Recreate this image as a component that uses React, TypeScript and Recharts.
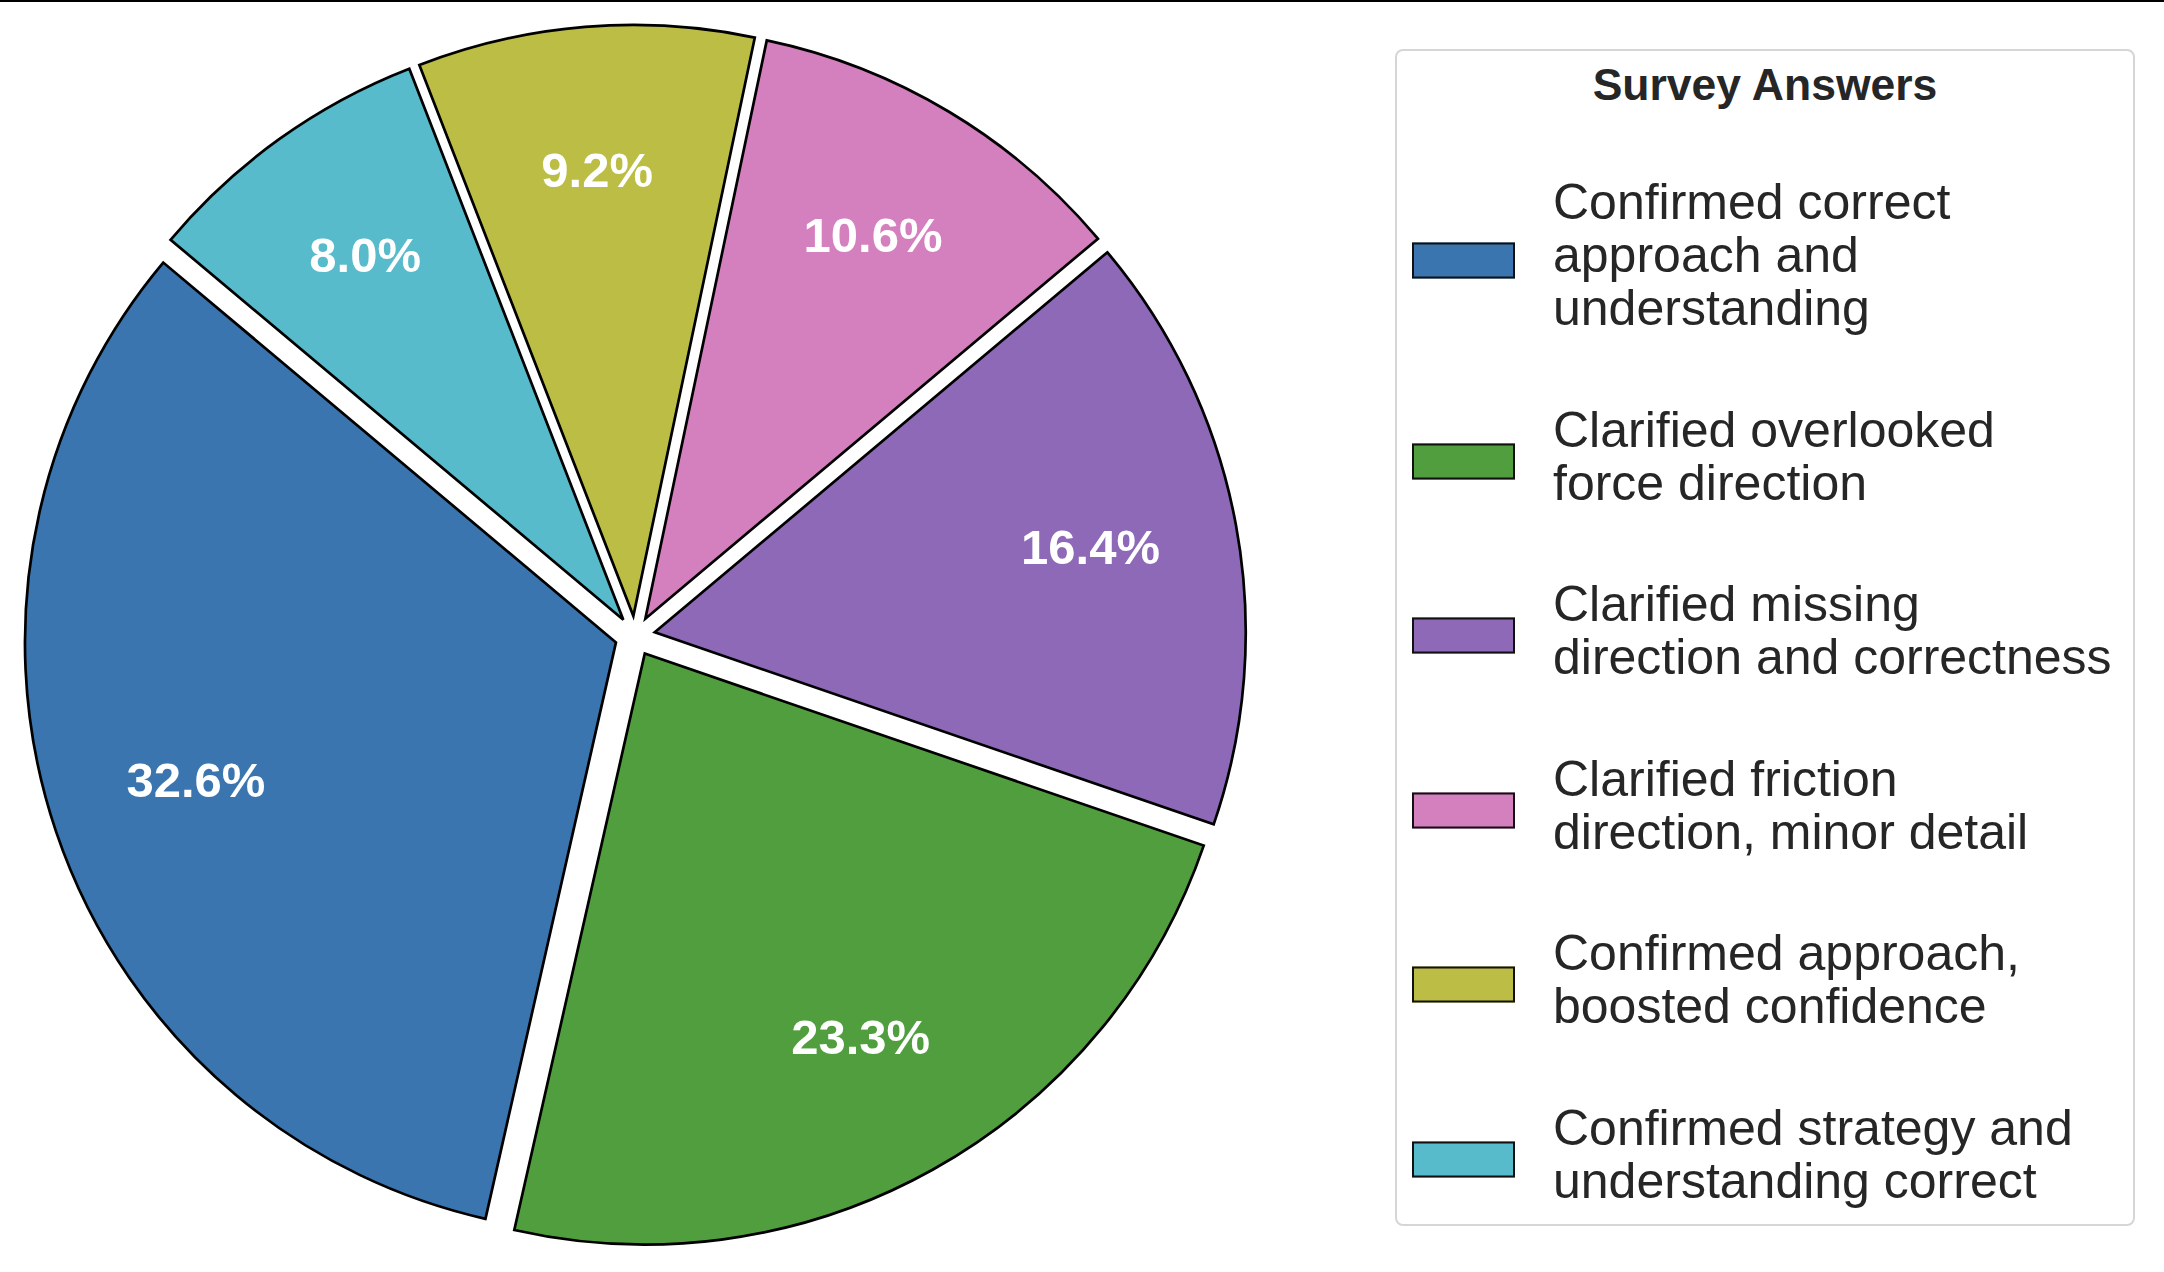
import React from 'react';
import { PieChart, Pie, Cell, Sector, Legend } from 'recharts';

const CATEGORIES = [
  'Confirmed correct\napproach and\nunderstanding',
  'Clarified overlooked\nforce direction',
  'Clarified missing\ndirection and correctness',
  'Clarified friction\ndirection, minor detail',
  'Confirmed approach,\nboosted confidence',
  'Confirmed strategy and\nunderstanding correct',
];
const PERCENTS = [32.6, 23.3, 16.4, 10.6, 9.2, 8.0];
const COLORS = ['#3A75AF', '#519E3E', '#8D69B8', '#D47FBE', '#BCBD45', '#57BBCC'];
const LEGEND_TITLE = 'Survey Answers';

const data = CATEGORIES.map((name, i) => ({ name, value: PERCENTS[i] }));

const EXPLODE = 0.034;
const PCT_DIST = 0.75;
const RAD = Math.PI / 180;
const FONT = '"Liberation Sans", Arial, Helvetica, sans-serif';
const TEXT_COLOR = '#262626';

const renderSector = (props: any) => {
  const { cx, cy, midAngle, outerRadius } = props;
  const off = EXPLODE * outerRadius;
  const dx = off * Math.cos(-midAngle * RAD);
  const dy = off * Math.sin(-midAngle * RAD);
  return <Sector {...props} cx={cx + dx} cy={cy + dy} />;
};

const renderLabel = (props: any) => {
  const { cx, cy, midAngle, outerRadius, index } = props;
  const r = outerRadius * (EXPLODE + PCT_DIST);
  const x = cx + r * Math.cos(-midAngle * RAD);
  const y = cy + r * Math.sin(-midAngle * RAD) - 4;
  return (
    <text
      x={x}
      y={y}
      fill="#ffffff"
      textAnchor="middle"
      dominantBaseline="central"
      style={{ fontFamily: FONT, fontWeight: 700, fontSize: 49 }}
    >
      {PERCENTS[index].toFixed(1) + '%'}
    </text>
  );
};

const LegendContent = (props: any) => {
  const payload: any[] = props.payload || [];
  const items = CATEGORIES.map((c, i) => {
    const p = payload.find((e) => e && e.value === c);
    return { label: p ? p.value : c, color: COLORS[i] };
  });
  return (
    <div
      style={{
        boxSizing: 'border-box',
        width: 740,
        height: 1177,
        border: '2px solid #d6d6d6',
        borderRadius: 8,
        background: '#ffffff',
        fontFamily: FONT,
        color: TEXT_COLOR,
        position: 'relative',
      }}
    >
      <div
        style={{
          position: 'absolute',
          top: 8.5,
          left: 0,
          width: '100%',
          textAlign: 'center',
          fontWeight: 700,
          fontSize: 44.5,
          lineHeight: '50px',
        }}
      >
        {LEGEND_TITLE}
      </div>
      <div style={{ position: 'absolute', top: 125, left: 15 }}>
        {items.map((it, i) => (
          <div
            key={i}
            style={{ display: 'flex', alignItems: 'center', marginBottom: 68.6 }}
          >
            <div
              style={{
                boxSizing: 'border-box',
                width: 103,
                height: 36,
                background: it.color,
                border: '2.5px solid #111',
                transform: 'translateY(4.5px)',
                flex: 'none',
              }}
            />
            <div
              style={{
                marginLeft: 38,
                fontSize: 50,
                lineHeight: '53px',
                whiteSpace: 'pre-line',
              }}
            >
              {it.label}
            </div>
          </div>
        ))}
      </div>
    </div>
  );
};

export default function App() {
  return (
    <div
      style={{
        position: 'absolute',
        left: 0,
        top: 0,
        width: 2164,
        height: 1272,
        background: '#ffffff',
        overflow: 'hidden',
      }}
    >
      <div
        style={{
          position: 'absolute',
          left: 0,
          top: 0,
          width: 2164,
          height: 2,
          background: '#000',
          zIndex: 5,
        }}
      />
      <PieChart width={2164} height={1272} margin={{ top: 0, right: 0, bottom: 0, left: 0 }}>
        <Pie
          data={data}
          dataKey="value"
          nameKey="name"
          cx={635}
          cy={636}
          outerRadius={591}
          innerRadius={0}
          startAngle={140}
          endAngle={500}
          paddingAngle={0}
          stroke="#000000"
          strokeWidth={2.7}
          isAnimationActive={false}
          shape={renderSector}
          activeShape={renderSector}
          inactiveShape={renderSector}
          label={renderLabel}
          labelLine={false}
        >
          {data.map((d, i) => (
            <Cell key={d.name} fill={COLORS[i]} />
          ))}
        </Pie>
        <Legend
          layout="vertical"
          align="right"
          verticalAlign="middle"
          content={<LegendContent />}
          wrapperStyle={{ position: 'absolute', left: 1395, top: 49, width: 740, height: 1177 }}
        />
      </PieChart>
    </div>
  );
}
